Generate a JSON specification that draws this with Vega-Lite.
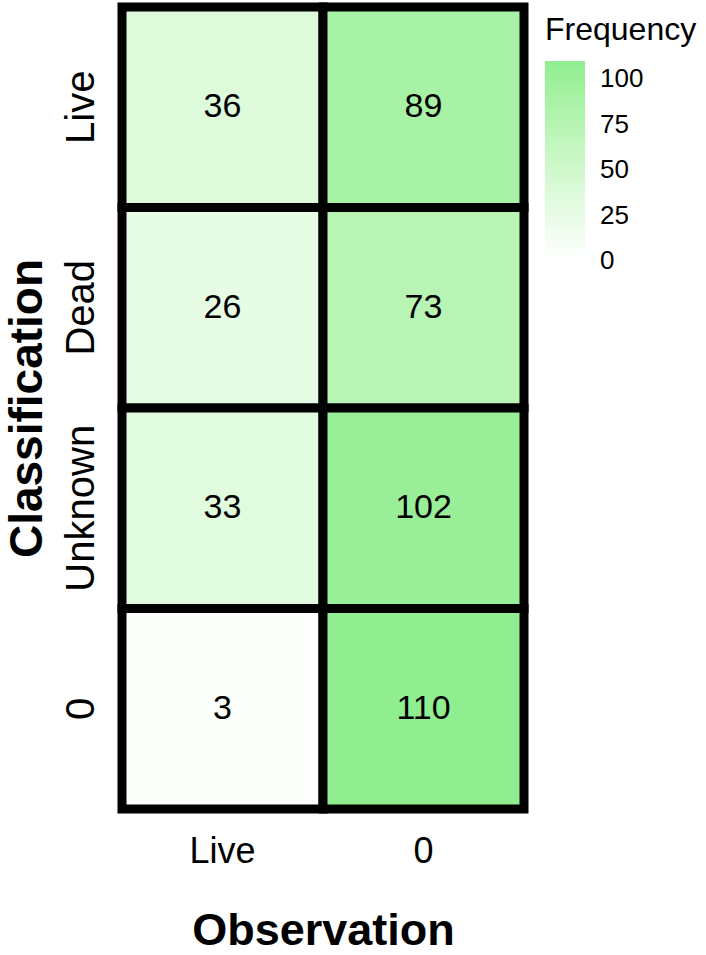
{
  "$schema": "https://vega.github.io/schema/vega-lite/v6.json",
  "width": 402,
  "height": 802,
  "autosize": {"type": "none"},
  "padding": {"left": 122, "top": 7, "right": 182, "bottom": 146},
  "background": "white",
  "config": {
    "view": {"stroke": null},
    "font": "Liberation Sans",
    "axis": {"labelFont": "Liberation Sans", "titleFont": "Liberation Sans", "labelColor": "black", "titleColor": "black"},
    "legend": {"labelFont": "Liberation Sans", "titleFont": "Liberation Sans"}
  },
  "data": {
    "values": [
      {"Observation": "Live", "Classification": "Live", "Frequency": 36},
      {"Observation": "0", "Classification": "Live", "Frequency": 89},
      {"Observation": "Live", "Classification": "Dead", "Frequency": 26},
      {"Observation": "0", "Classification": "Dead", "Frequency": 73},
      {"Observation": "Live", "Classification": "Unknown", "Frequency": 33},
      {"Observation": "0", "Classification": "Unknown", "Frequency": 102},
      {"Observation": "Live", "Classification": "0", "Frequency": 3},
      {"Observation": "0", "Classification": "0", "Frequency": 110}
    ]
  },
  "encoding": {
    "x": {
      "field": "Observation",
      "type": "nominal",
      "sort": ["Live", "0"],
      "scale": {"paddingInner": 0, "paddingOuter": 0},
      "axis": {
        "title": "Observation",
        "titleFontSize": 45,
        "titleFontWeight": "bold",
        "titlePadding": 39,
        "labelAngle": 0,
        "labelFontSize": 36,
        "labelPadding": 25,
        "ticks": false,
        "domain": false
      }
    },
    "y": {
      "field": "Classification",
      "type": "nominal",
      "sort": ["Live", "Dead", "Unknown", "0"],
      "scale": {"paddingInner": 0, "paddingOuter": 0},
      "axis": {
        "title": "Classification",
        "titleFontSize": 46,
        "titleFontWeight": "bold",
        "titlePadding": 10,
        "labelAngle": -90,
        "labelFontSize": 40,
        "labelPadding": 21,
        "ticks": false,
        "domain": false
      }
    }
  },
  "layer": [
    {
      "mark": {"type": "rect", "stroke": "black", "strokeWidth": 9},
      "encoding": {
        "color": {
          "field": "Frequency",
          "type": "quantitative",
          "scale": {"domain": [0, 110], "range": ["#ffffff", "#90ee90"], "interpolate": "lab"},
          "legend": {
            "title": "Frequency",
            "orient": "none",
            "legendX": 423,
            "legendY": 8,
            "padding": 0,
            "direction": "vertical",
            "gradientLength": 200,
            "gradientThickness": 40,
            "gradientStrokeWidth": 0,
            "titleFontSize": 32,
            "titleFontWeight": "normal",
            "titleColor": "black",
            "titlePadding": 14,
            "labelFontSize": 26,
            "labelColor": "black",
            "labelOffset": 15,
            "labelOverlap": false,
            "values": [0, 25, 50, 75, 100],
            "encode": {
              "labels": {"update": {"baseline": {"value": "middle"}}}
            }
          }
        }
      }
    },
    {
      "mark": {"type": "text", "fontSize": 34, "color": "black", "baseline": "middle"},
      "encoding": {
        "text": {"field": "Frequency", "type": "quantitative"}
      }
    }
  ]
}
